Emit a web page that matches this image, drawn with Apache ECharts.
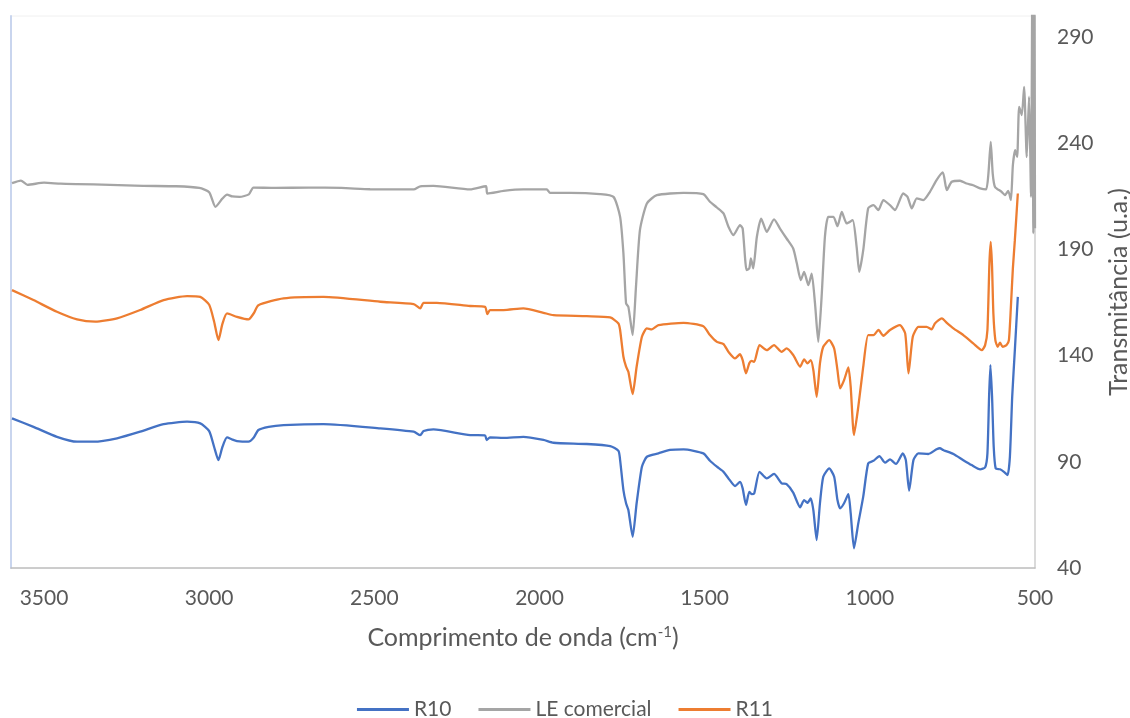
<!DOCTYPE html>
<html lang="pt">
<head>
<meta charset="utf-8">
<title>Espectros FTIR – R10, LE comercial, R11</title>
<script src="https://cdn.jsdelivr.net/npm/echarts@6/dist/echarts.min.js"></script>
<style>
  html, body { margin: 0; padding: 0; background: #ffffff; }
  #chart { width: 1130px; height: 718px; }
</style>
</head>
<body>
<div id="chart"></div>
<script>
// Wavenumbers (cm-1) and transmittance (u.a.) of each spectrum
const r10Wavenumber = [3597,3532,3461,3400,3350,3279,3209,3138,3067,3027,3000,2985,2972,2960,2946,2930,2916,2881,2865,2851,2820,2775,2654,2482,2381,2361,2351,2321,2210,2165,2160,2150,2109,2049,1988,1958,1857,1786,1761,1756,1746,1738,1731,1718,1706,1690,1675,1640,1605,1564,1504,1484,1463,1443,1428,1408,1393,1385,1375,1365,1358,1350,1334,1312,1290,1267,1252,1232,1211,1199,1189,1179,1171,1161,1151,1141,1123,1108,1098,1090,1078,1065,1058,1048,1035,1020,1005,989,971,954,939,921,900,891,881,868,853,823,798,788,778,772,747,717,692,666,651,644,639,635,630,625,619,606,594,583,576,569,561,552];
const r10Transmittance = [110.5,106.5,101.8,99.5,99.5,101.1,104.2,107.8,108.9,108.1,104.5,97,90.8,97,101.5,100.5,99.8,99.5,101.5,105.0,106.5,107.3,107.8,105.8,104.2,102.6,104.5,105.3,102.6,102.5,100.3,101.5,101.3,101.8,100.3,99.0,98.4,97.4,95.2,90.8,76.7,70.5,67.3,54.7,70.5,87.7,92.4,94.0,95.6,95.9,94.0,90.5,87.7,85.3,82.2,78.6,80.6,77.5,69.7,75.9,74.8,75.2,85.3,82.2,84.3,79.9,79.5,75.5,68.6,72.0,70.7,72.8,67.3,53.2,70.5,83.0,86.9,83.0,72.0,68.1,70.5,74.8,65.8,49.3,61.0,73.6,89.3,90.5,92.7,89.6,91.2,89.0,94.0,90.8,76.4,90.8,94.0,93.7,95.9,96.4,95.6,95.2,93.7,90.8,88.5,86.5,87.4,94.0,120.7,135.6,120.7,97.1,86.9,86.5,85.3,83.8,92.4,120.7,142.6,167.7];

const leWavenumber = [3597,3570,3550,3500,3450,3400,3300,3200,3100,3030,3000,2981,2960,2946,2930,2908,2880,2866,2800,2700,2600,2513,2381,2361,2321,2210,2162,2158,2109,2049,1978,1968,1907,1817,1776,1756,1746,1738,1731,1718,1708,1696,1675,1645,1564,1504,1484,1463,1443,1428,1413,1393,1385,1373,1365,1360,1353,1342,1329,1312,1290,1272,1252,1232,1221,1209,1199,1186,1176,1166,1156,1146,1136,1126,1110,1098,1085,1070,1052,1040,1032,1020,1005,989,974,959,939,924,899,886,873,858,838,818,798,779,767,752,727,707,687,666,648,641,634,628,621,601,591,581,573,567,560,554,548,540,533,525,518,512,508,505,502,500];
const leTransmittance = [221.3,222.5,220.5,221.5,221.0,220.8,220.5,220.0,219.8,219.0,217.0,210.1,214.0,215.9,215.0,214.8,216.0,219.2,219.0,219.2,219.0,218.4,218.3,219.8,220.0,218.3,219.8,216.4,217.6,218.3,218.3,216.7,216.7,216.1,214.8,205.4,188.2,164.6,163.0,149.7,172.4,199.1,211.7,215.6,216.7,216.1,212.5,209.8,207.0,200.7,196.8,201.5,199.9,180.3,181.1,185.8,181.1,196.0,204.6,198.3,204.2,199.9,195.2,190.5,183.5,175.6,179.5,173.2,178.7,164.6,146.5,167.7,196.0,205.4,205.4,201.0,207.7,202.3,203.8,191.3,179.5,189.7,209.4,210.9,208.6,213.3,210.9,208.6,216.4,214.8,209.4,214.1,213.3,217.2,222.7,226.3,218.0,221.9,222.4,221.1,220.3,218.8,218.3,225.8,240.7,225.8,219.5,217.2,215.6,217.6,213.3,229.7,236.8,233.6,257.2,253.3,266.6,233.6,262.0,214.8,320,197.7,320,200];

const r11Wavenumber = [3597,3532,3461,3400,3345,3279,3209,3138,3067,3027,3000,2985,2972,2960,2946,2916,2881,2865,2851,2775,2654,2482,2381,2361,2351,2311,2210,2165,2158,2150,2109,2049,1988,1958,1857,1786,1761,1756,1746,1738,1731,1718,1706,1690,1675,1660,1640,1564,1504,1484,1463,1443,1428,1408,1393,1385,1375,1365,1358,1350,1334,1312,1290,1267,1252,1232,1211,1199,1189,1179,1171,1161,1151,1141,1123,1108,1098,1090,1078,1065,1058,1048,1035,1020,1005,989,974,959,939,909,893,883,870,853,828,813,803,782,767,747,717,687,661,651,644,638,634,630,626,620,613,606,598,586,579,573,567,561,552];
const r11Transmittance = [170.9,166.2,160.7,157.1,156.0,157.6,161.5,166.2,168.1,167.7,164.0,156.0,147.3,155.0,159.9,158.3,157.1,160.0,163.8,167.0,167.7,165.4,164.3,162.3,164.9,164.9,163.4,163.0,159.6,161.5,161.5,162.3,160.2,159.1,158.6,158.0,155.2,152.1,139.5,134.8,132.4,121.9,134.8,148.9,152.9,152.4,154.4,155.5,153.9,149.7,146.5,145.5,141.8,138.7,140.7,137.9,131.7,136.4,137.6,137.1,145.0,142.6,145.0,141.8,143.4,140.3,134.8,138.3,136.4,137.9,133.2,120.6,136.4,144.2,147.3,143.4,133.2,124.6,128.5,134.5,125.4,102.6,115.9,134.8,149.7,149.7,152.1,149.4,152.1,154.4,150.5,131.7,148.9,153.6,153.6,152.4,155.2,157.6,155.5,152.9,149.7,145.8,142.6,145.0,152.1,183.5,193.6,181.9,159.9,147.3,144.2,146.1,144.2,145.0,147.3,163.0,181.1,194.4,216.4];

// Axis ticks
const xTickMin = 500, xTickMax = 3600, xTickStep = 500;
const yTickMin = 40, yTickMax = 300, yTickStep = 50;

const seriesNames = ['R10', 'LE comercial', 'R11'];
const seriesColors = ['#4472C4', '#A5A5A5', '#ED7D31'];

function pairs(xs, ys) {
  return xs.map((x, i) => [x, ys[i]]);
}

const FONT = 'Lato, "Open Sans", sans-serif';
const TEXT = '#595959';

const chart = echarts.init(document.getElementById('chart'), null, { renderer: 'canvas' });

chart.setOption({
  animation: false,
  backgroundColor: '#ffffff',
  color: seriesColors,
  grid: {
    left: 11, right: 95, top: 16, bottom: 150,
    containLabel: false,
    outerBoundsMode: 'none',
    show: true,
    borderColor: '#F0F0F0',
    borderWidth: 1
  },
  legend: {
    data: seriesNames,
    top: 694,
    left: 'center',
    icon: 'rect',
    itemWidth: 52,
    itemHeight: 3,
    itemGap: 27,
    textStyle: { fontFamily: FONT, fontSize: 21, color: TEXT }
  },
  xAxis: {
    type: 'value',
    inverse: true,
    min: xTickMin,
    max: xTickMax,
    interval: xTickStep,
    axisLine: { show: true, onZero: false, lineStyle: { color: '#BFBFBF', width: 1.5 } },
    axisTick: { show: false },
    splitLine: { show: false },
    axisLabel: {
      fontFamily: FONT, fontSize: 21, color: TEXT, margin: 20,
      showMaxLabel: false, showMinLabel: true,
      formatter: (v) => String(v)
    },
    name: 'Comprimento de onda (cm{sup|-1})',
    nameLocation: 'middle',
    nameGap: 57,
    nameTextStyle: {
      fontFamily: FONT, fontSize: 25, color: TEXT,
      rich: { sup: { fontFamily: FONT, fontSize: 15, color: TEXT, verticalAlign: 'top', lineHeight: 15 } }
    }
  },
  yAxis: [
    {
      type: 'value',
      position: 'right',
      min: yTickMin,
      max: yTickMax,
      interval: yTickStep,
      axisLine: { show: true, onZero: false, lineStyle: { color: '#D0D0D0', width: 1.5 } },
      axisTick: { show: false },
      splitLine: { show: false },
      axisLabel: {
        fontFamily: FONT, fontSize: 21, color: TEXT, margin: 22,
        showMaxLabel: false,
        formatter: (v) => String(v)
      },
      name: 'Transmitância (u.a.)',
      nameLocation: 'middle',
      nameRotate: 90,
      nameGap: 71,
      nameTextStyle: { fontFamily: FONT, fontSize: 25, color: TEXT }
    },
    {
      type: 'value',
      position: 'left',
      min: yTickMin,
      max: yTickMax,
      axisLine: { show: true, onZero: false, lineStyle: { color: '#C9D5EE', width: 2 } },
      axisTick: { show: false },
      axisLabel: { show: false },
      splitLine: { show: false }
    }
  ],
  series: [
    { name: seriesNames[0], type: 'line', yAxisIndex: 0, data: pairs(r10Wavenumber, r10Transmittance),
      showSymbol: false, symbol: 'none', smooth: 0.2, lineStyle: { width: 2.3 }, clip: true },
    { name: seriesNames[1], type: 'line', yAxisIndex: 0, data: pairs(leWavenumber, leTransmittance),
      showSymbol: false, symbol: 'none', smooth: 0.2, lineStyle: { width: 2.3 }, clip: true },
    { name: seriesNames[2], type: 'line', yAxisIndex: 0, data: pairs(r11Wavenumber, r11Transmittance),
      showSymbol: false, symbol: 'none', smooth: 0.2, lineStyle: { width: 2.3 }, clip: true }
  ]
});
</script>
</body>
</html>
